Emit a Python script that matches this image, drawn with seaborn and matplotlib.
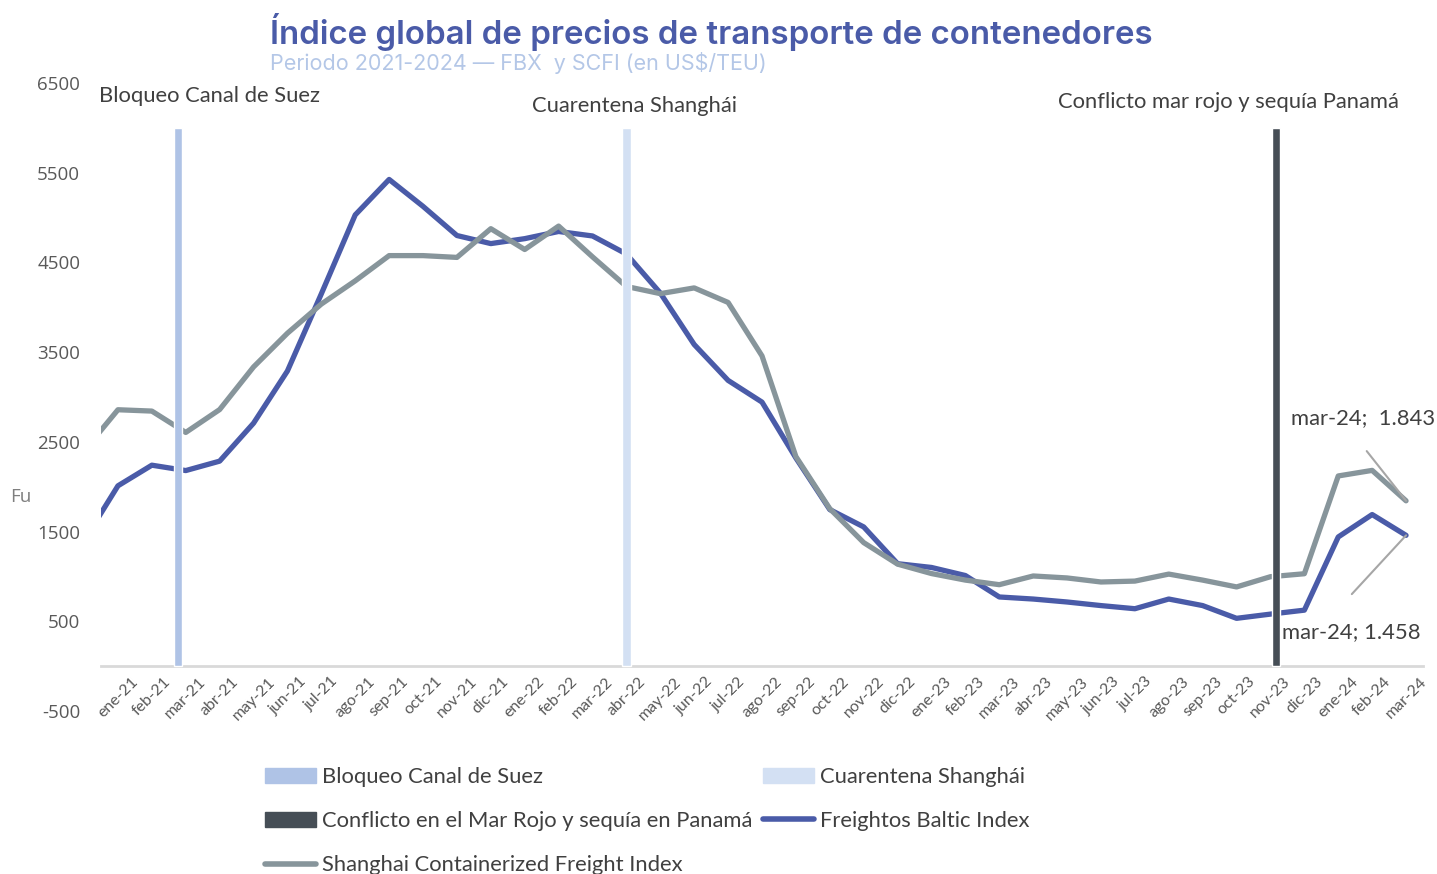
import numpy as np
import pandas as pd
import matplotlib
matplotlib.use('Agg')
import matplotlib.pyplot as plt
import seaborn as sns
from matplotlib.patches import Patch
from matplotlib.lines import Line2D
from matplotlib.transforms import ScaledTranslation

# months shown on the axis (dic-20 sits just left of the visible range)
meses = ['dic-20',
         'ene-21', 'feb-21', 'mar-21', 'abr-21', 'may-21', 'jun-21', 'jul-21', 'ago-21',
         'sep-21', 'oct-21', 'nov-21', 'dic-21',
         'ene-22', 'feb-22', 'mar-22', 'abr-22', 'may-22', 'jun-22', 'jul-22', 'ago-22',
         'sep-22', 'oct-22', 'nov-22', 'dic-22',
         'ene-23', 'feb-23', 'mar-23', 'abr-23', 'may-23', 'jun-23', 'jul-23', 'ago-23',
         'sep-23', 'oct-23', 'nov-23', 'dic-23',
         'ene-24', 'feb-24', 'mar-24']

fbx = [1400,
       2010, 2240, 2180, 2285, 2708, 3290, 4150, 5030, 5425, 5125, 4800, 4710,
       4765, 4845, 4795, 4594, 4159, 3585, 3185, 2943, 2320, 1745, 1552, 1142,
       1100, 1010, 771, 748, 715, 675, 640, 748, 675, 533, 580, 624,
       1440, 1690, 1458]

scfi = [2400,
        2858, 2843, 2605, 2860, 3335, 3711, 4036, 4295, 4576, 4576, 4556, 4876,
        4644, 4905, 4562, 4232, 4152, 4216, 4054, 3458, 2336, 1755, 1377, 1137,
        1032, 959, 908, 1005, 983, 938, 948, 1026, 959, 883, 997, 1030,
        2120, 2182, 1843]

# event markers (bars of height 6000 on the event month)
eventos = ['Bloqueo Canal de Suez', 'Cuarentena Shanghái', 'Conflicto en el Mar Rojo y sequía en Panamá']
evento_mes = ['mar-21', 'abr-22', 'nov-23']
evento_valor = [6000, 6000, 6000]
evento_titulo = ['Bloqueo Canal de Suez', 'Cuarentena Shanghái', 'Conflicto mar rojo y sequía Panamá']

yticks = [-500, 500, 1500, 2500, 3500, 4500, 5500, 6500]

c_fbx = '#4A5BA8'
c_scfi = '#87959B'
c_evento = ['#AFC3E6', '#D3E0F3', '#464E56']
c_txt = '#404040'

sns.set_style('white')
plt.rcParams['font.family'] = ['Lato', 'DejaVu Sans']

fig = plt.figure(figsize=(14.37, 8.74), dpi=100)
ax = fig.add_axes([101/1437, 1 - 711/874, (1423 - 101)/1437, (711 - 83)/874])

pos = np.arange(len(meses)) - 1  # ene-21 -> 0
df = pd.DataFrame({'pos': np.concatenate([pos, pos]),
                   'valor': fbx + scfi,
                   'serie': ['Freightos Baltic Index'] * len(fbx) + ['Shanghai Containerized Freight Index'] * len(scfi)})
sns.lineplot(data=df, x='pos', y='valor', hue='serie',
             palette=[c_fbx, c_scfi], linewidth=3.8, ax=ax, legend=False, zorder=2)

# event bars, clustered like the original (left / centre / right)
offsets = [-0.23, 0.0, 0.17]
for k in range(len(eventos)):
    xi = meses.index(evento_mes[k]) - 1
    ax.bar(xi + offsets[k], evento_valor[k], width=0.25, color=c_evento[k], zorder=3)

ax.set_xlim(-0.5, 38.5)
ax.set_ylim(-500, 6500)
ax.set_yticks(yticks)
ax.set_yticklabels([str(v) for v in yticks])
ax.tick_params(axis='y', length=0, pad=15, labelsize=13.5, labelcolor='#595959')
for lbl in ax.get_yticklabels():
    lbl.set_family('Open Sans')

ax.set_xticks(np.arange(39))
ax.set_xticklabels(meses[1:])
ax.set_xticks(np.arange(40) - 0.5, minor=True)
ax.tick_params(axis='x', which='major', length=0, pad=6, labelsize=11.5, labelcolor='#595959',
               labelrotation=45)
ax.tick_params(axis='x', which='minor', length=8, width=1.5, color='#D9D9D9', direction='out')
for lbl in ax.get_xticklabels():
    lbl.set_ha('right')
    lbl.set_va('top')
    lbl.set_rotation_mode('anchor')
    lbl.set_transform(lbl.get_transform() + ScaledTranslation(3/100, 0, fig.dpi_scale_trans))

for s in ['top', 'right', 'left']:
    ax.spines[s].set_visible(False)
ax.spines['bottom'].set_position(('data', 0))
ax.spines['bottom'].set_color('#D9D9D9')
ax.spines['bottom'].set_linewidth(2)
ax.set_xlabel('')
ax.set_ylabel('')

# event titles above the bars
ax.text(-0.55, 6350, evento_titulo[0], fontsize=15.8, color=c_txt, va='center', ha='left')
ax.text(15.25, 6240, evento_titulo[1], fontsize=15.8, color=c_txt, va='center', ha='center')
ax.text(37.8, 6290, evento_titulo[2], fontsize=15.8, color=c_txt, va='center', ha='right')

# data labels for the last month with leader lines
ax.plot([36.84, 38], [2397, scfi[-1]], color='#A6A6A6', lw=1.5, zorder=4)
ax.plot([36.4, 38], [803, fbx[-1]], color='#A6A6A6', lw=1.5, zorder=4)
ax.text(38.85, 2770, f'mar-24;  {scfi[-1]/1000:.3f}', fontsize=15.8, color=c_txt, ha='right', va='center')
ax.text(34.35, 380, f'mar-24; {fbx[-1]/1000:.3f}', fontsize=15.8, color=c_txt, ha='left', va='center')

fig.text(0.007, 1 - 497/874, 'Fu', fontsize=13.5, color='#7F7F7F', va='center', family='Open Sans')

# titles
fig.text(270/1437, 1 - 32/874, 'Índice global de precios de transporte de contenedores',
         fontsize=23.8, fontweight='semibold', color=c_fbx, ha='left', va='center', family='Inter')
fig.text(270/1437, 1 - 63/874, 'Periodo 2021-2024 — FBX  y SCFI (en US$/TEU)',
         fontsize=15.5, color='#B4C7E7', ha='left', va='center', family='Inter')

handles = [Patch(color=c_evento[0], label=eventos[0]),
           Patch(color=c_evento[2], label=eventos[2]),
           Line2D([], [], color=c_scfi, lw=4, solid_capstyle='round', label='Shanghai Containerized Freight Index'),
           Patch(color=c_evento[1], label=eventos[1]),
           Line2D([], [], color=c_fbx, lw=4, solid_capstyle='round', label='Freightos Baltic Index')]
leg = fig.legend(handles=handles, ncol=2, loc='upper left', bbox_to_anchor=(265/1437, 1 - 767/874),
                 frameon=False, fontsize=15.8, handlelength=2.33, handleheight=0.7, handletextpad=0.27,
                 columnspacing=0.47, labelspacing=1.1, borderaxespad=0, borderpad=0)
for t in leg.get_texts():
    t.set_color(c_txt)

fig.savefig('out.png', dpi=100)
